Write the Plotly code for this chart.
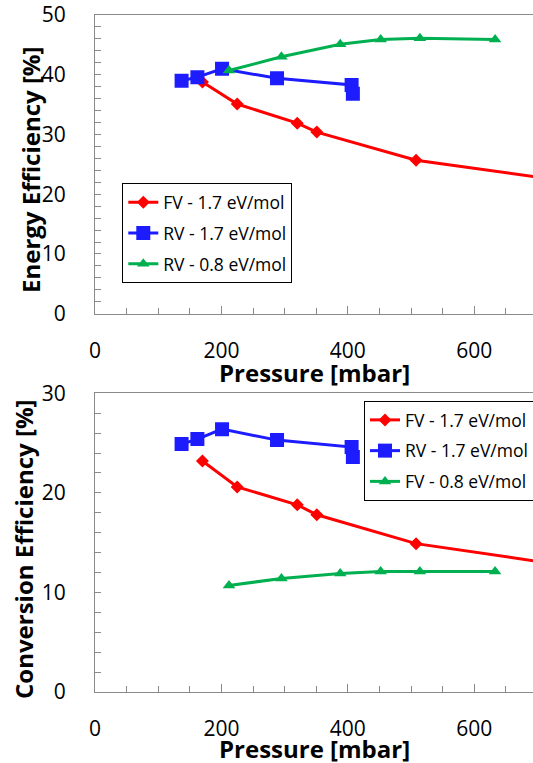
import plotly.graph_objects as go

# Pressure (mbar) of each measurement series
p_fv17 = [170, 225, 320, 351, 508, 800]
p_rv17 = [137, 162, 201, 288, 406, 408]
p_08 = [212, 295, 388, 452, 514, 633]

# Energy efficiency (%)
ee_fv17 = [38.8, 35.1, 31.9, 30.4, 25.7, 21.4]
ee_rv17 = [39.0, 39.6, 41.0, 39.4, 38.3, 36.8]
ee_rv08 = [40.7, 43.0, 45.1, 45.9, 46.1, 45.9]

# Conversion efficiency (%)
ce_fv17 = [23.2, 20.6, 18.8, 17.8, 14.9, 12.2]
ce_rv17 = [24.9, 25.4, 26.4, 25.3, 24.6, 23.6]
ce_fv08 = [10.7, 11.4, 11.9, 12.1, 12.1, 12.1]

names_top = ["FV - 1.7 eV/mol", "RV - 1.7 eV/mol", "RV - 0.8 eV/mol"]
names_bot = ["FV - 1.7 eV/mol", "RV - 1.7 eV/mol", "FV - 0.8 eV/mol"]

RED, BLUE, GREEN = "#FF0000", "#1C1CFF", "#00B050"
AXIS = "#8A8A8A"
FONT = "Open Sans"

styles = [
    dict(color=RED, symbol="diamond", size=10),
    dict(color=BLUE, symbol="square", size=14),
    dict(color=GREEN, symbol="triangle-up", size=11),
]

fig = go.Figure()

top_series = [(p_fv17, ee_fv17), (p_rv17, ee_rv17), (p_08, ee_rv08)]
bot_series = [(p_fv17, ce_fv17), (p_rv17, ce_rv17), (p_08, ce_fv08)]

for i, ((x, y), name, st) in enumerate(zip(top_series, names_top, styles)):
    fig.add_trace(go.Scatter(
        x=x, y=y, name=name, mode="lines+markers",
        line=dict(color=st["color"], width=3),
        marker=dict(color=st["color"], symbol=st["symbol"], size=st["size"]),
        xaxis="x", yaxis="y", legend="legend", legendgroup=f"t{i}",
    ))

for i, ((x, y), name, st) in enumerate(zip(bot_series, names_bot, styles)):
    fig.add_trace(go.Scatter(
        x=x, y=y, name=name, mode="lines+markers",
        line=dict(color=st["color"], width=3),
        marker=dict(color=st["color"], symbol=st["symbol"], size=st["size"]),
        xaxis="x2", yaxis="y2", legend="legend2", legendgroup=f"b{i}",
    ))

H, T, B, L = 763, 15, 71, 95
PH = H - T - B
PW = 533 - L


def py(pix):
    return (H - B - pix) / PH


def xaxis_common(anchor):
    return dict(
        range=[0, 693], dtick=200, tick0=0, showgrid=False, zeroline=False,
        showline=True, linecolor=AXIS, linewidth=1.3, mirror=True,
        ticks="inside", ticklen=8, tickcolor=AXIS, tickwidth=1,
        minor=dict(dtick=50, ticks="inside", ticklen=6, tickcolor=AXIS, tickwidth=1),
        tickfont=dict(family=FONT, size=21, color="black"),
        ticklabelstandoff=18, anchor=anchor,
    )


def yaxis_common(rng, anchor, domain):
    return dict(
        range=rng, dtick=10, showgrid=False, zeroline=False,
        showline=True, linecolor=AXIS, linewidth=1.3,
        ticks="inside", ticklen=6, tickcolor=AXIS, tickwidth=1,
        minor=dict(dtick=2, ticks="inside", ticklen=6, tickcolor=AXIS, tickwidth=1),
        tickfont=dict(family=FONT, size=21, color="black"),
        ticklabelstandoff=24, anchor=anchor, domain=domain,
    )


legend_common = dict(
    bgcolor="white", bordercolor="black", borderwidth=1,
    font=dict(family=FONT, size=17.5, color="black"),
    tracegroupgap=5, itemwidth=30, xanchor="left", yanchor="top",
)

fig.update_layout(
    width=533, height=H,
    margin=dict(l=L, r=0, t=T, b=B, autoexpand=False),
    paper_bgcolor="white", plot_bgcolor="white",
    xaxis=xaxis_common("y"),
    yaxis=yaxis_common([0, 50], "x", [py(313.7), 1]),
    xaxis2=xaxis_common("y2"),
    yaxis2=yaxis_common([0, 30], "x2", [0, py(393.3)]),
    legend=dict(**legend_common, x=(122.3 - L) / PW, y=py(183.3)),
    legend2=dict(**legend_common, x=(364 - L) / PW, y=py(401)),
    showlegend=True,
)

title_font = dict(family=FONT, size=24, color="black")
annotations = [
    dict(text="<b>Energy Efficiency [%]</b>", x=0, y=py(170), xshift=30 - L,
         textangle=-90),
    dict(text="<b>Conversion Efficiency [%]</b>", x=0, y=py(550), xshift=23 - L,
         textangle=-90),
    dict(text="<b>Pressure [mbar]</b>", x=0.5, y=py(372)),
    dict(text="<b>Pressure [mbar]</b>", x=0.5, y=py(749)),
]
for a in annotations:
    fig.add_annotation(xref="paper", yref="paper", showarrow=False,
                       xanchor="center", yanchor="middle", borderpad=0,
                       font=title_font, **a)

fig.write_html("out.html")
